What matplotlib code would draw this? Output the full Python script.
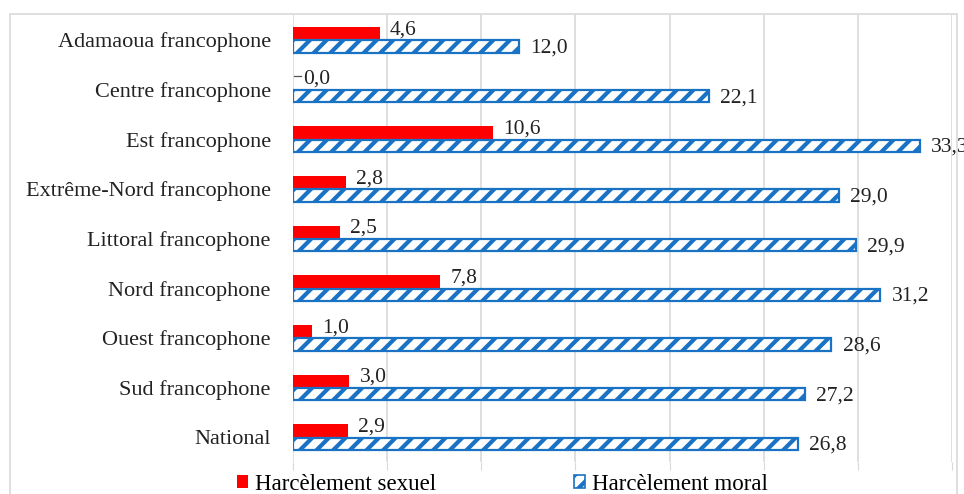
import matplotlib
matplotlib.use("Agg")
import matplotlib.pyplot as plt
from matplotlib.patches import Rectangle, Patch
import numpy as np

categories = ["Adamaoua francophone", "Centre francophone", "Est francophone",
              "Extrême-Nord francophone", "Littoral francophone", "Nord francophone",
              "Ouest francophone", "Sud francophone", "National"]
sexuel = [4.6, 0.0, 10.6, 2.8, 2.5, 7.8, 1.0, 3.0, 2.9]
moral = [12.0, 22.1, 33.3, 29.0, 29.9, 31.2, 28.6, 27.2, 26.8]
series_names = ["Harcèlement sexuel", "Harcèlement moral"]

plt.rcParams['font.family'] = ['Liberation Serif', 'DejaVu Serif']
plt.rcParams['hatch.linewidth'] = 3.0

RED = '#ff0000'
BLUE = '#1a72c4'
FS = 15.5

fig = plt.figure(figsize=(9.64, 4.94), dpi=100)
W, H = 964, 494
ax = fig.add_axes([293 / W, 1 - 462 / H, (952 - 293) / W, (462 - 15) / H])

y = np.arange(len(categories))
h = 0.25
off = 0.135
ax.barh(y - off, sexuel, height=h, color=RED, edgecolor='none', zorder=3)
ax.barh(y + off, moral, height=h, facecolor='white', edgecolor=BLUE,
        hatch='//', linewidth=1.6, zorder=3)

for i, v in enumerate(sexuel):
    ax.text(v + 0.55, i - off - 0.07, f"{v:.1f}".replace('.', ','), fontsize=FS,
            va='center', ha='left', color='#222222', zorder=4)
    if v == 0:
        # small leader line shown in the reference for the zero value
        ax.plot([v + 0.05, v + 0.45], [i - off - 0.14, i - off - 0.14],
                color='#555555', linewidth=0.9, zorder=4)
for i, v in enumerate(moral):
    ax.text(v + 0.6, i + off + 0.03, f"{v:.1f}".replace('.', ','), fontsize=FS,
            va='center', ha='left', color='#222222', zorder=4, clip_on=False)

ax.set_xlim(0, 35)
ax.set_ylim(len(categories) - 0.5, -0.5)
ax.set_xticks(np.arange(0, 36, 5))
ax.set_xticklabels([])
ax.set_yticks(y)
ax.set_yticklabels(categories, fontsize=16, color='#222222')
ax.tick_params(axis='y', length=0, pad=16)
ax.tick_params(axis='x', length=6, color='#d9d9d9', direction='out')
ax.grid(axis='x', color='#d9d9d9', linewidth=1.2, zorder=0)
for s in ['top', 'right', 'left', 'bottom']:
    ax.spines[s].set_visible(False)

# outer frame
fig.patches.append(Rectangle((10 / W, -0.05), (957 - 10) / W, 1 - 14 / H + 0.05,
                             transform=fig.transFigure, fill=False,
                             edgecolor='#d9d9d9', linewidth=1.2))

handles = [Patch(facecolor=RED, edgecolor='none', label=series_names[0]),
           Patch(facecolor='white', edgecolor=BLUE, hatch='//', linewidth=1.2,
                 label=series_names[1])]
fig.legend(handles=handles, loc='center', bbox_to_anchor=(0.521, 1 - 484 / H),
           ncol=2, frameon=False, fontsize=16.5, handlelength=0.5, handleheight=0.5,
           handletextpad=0.3, columnspacing=6.0, borderpad=0)

fig.savefig("out.png", dpi=100)
